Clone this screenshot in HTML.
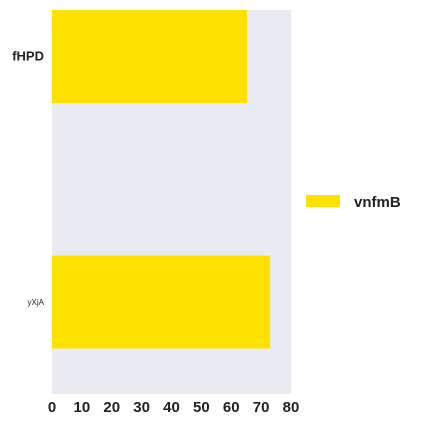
<!DOCTYPE html>
<html><head><meta charset="utf-8"><style>
body{margin:0;background:#fff;width:426px;height:426px;overflow:hidden}
svg{font-family:"Liberation Sans",sans-serif}
</style></head><body>
<svg id="c" width="426" height="426">
<rect x="52" y="10" width="239" height="384" fill="#eaeaf2"/>
<g id="bars"></g><g id="xt"></g><g id="yt"></g>
<g>
<rect x="306" y="195" width="34" height="12" fill="#ffe100"/>
<text x="354" y="207" font-size="15" font-weight="bold" fill="#222">vnfmB</text>
</g>
</svg>
<script>
const categories=["fHPD","yXjA"];
const values=[65.3,73];
const xTicks=[0,10,20,30,40,50,60,70,80];
const ns="http://www.w3.org/2000/svg";
const x=v=>52+v*(239/80);
const y=i=>56.5+i*245.5;
const bars=document.getElementById('bars'),xt=document.getElementById('xt'),yt=document.getElementById('yt');
categories.forEach((c,i)=>{
 const r=document.createElementNS(ns,'rect');
 r.setAttribute('x',x(0));r.setAttribute('y',y(i)-46.5);
 r.setAttribute('width',x(values[i])-x(0));r.setAttribute('height',93);
 r.setAttribute('fill','#ffe100');
 
 
 bars.appendChild(r);
 const t=document.createElementNS(ns,'text');
 t.setAttribute('x',44);t.setAttribute('y',y(i)+4);t.setAttribute('text-anchor','end');
 t.setAttribute('fill','#222');
 if(i===0){t.setAttribute('font-size','13');t.setAttribute('font-weight','bold');}
 else{t.setAttribute('font-size','8');t.setAttribute('y',y(i)+3);}
 t.textContent=c;
 
 
 yt.appendChild(t);
});
xTicks.forEach(v=>{
 const t=document.createElementNS(ns,'text');
 t.setAttribute('x',x(v));t.setAttribute('y',412);t.setAttribute('text-anchor','middle');
 t.setAttribute('font-size','15');t.setAttribute('font-weight','bold');t.setAttribute('fill','#222');
 t.textContent=v;
 
 
 xt.appendChild(t);
});
</script>
</body></html>
